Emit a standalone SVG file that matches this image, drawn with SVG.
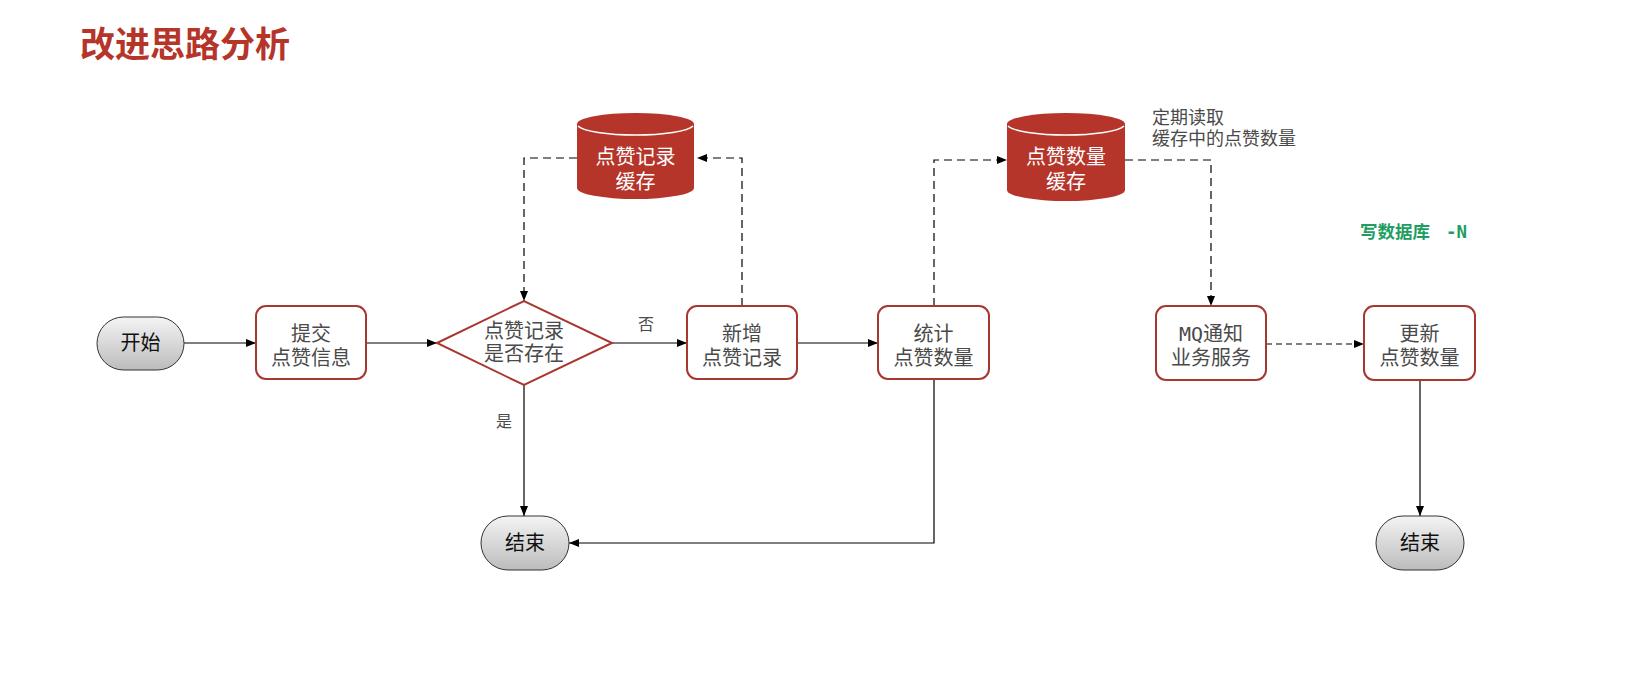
<svg xmlns="http://www.w3.org/2000/svg" width="1638" height="677" viewBox="0 0 1638 677">
<defs>
<linearGradient id="g" x1="0" y1="0" x2="0" y2="1"><stop offset="0" stop-color="#f4f4f4"/><stop offset="1" stop-color="#bcbcbc"/></linearGradient>
<marker id="a" viewBox="0 0 10 10" refX="10" refY="5" markerWidth="10" markerHeight="10" markerUnits="userSpaceOnUse" orient="auto"><path d="M0,1 L10,5 L0,9 z" fill="#000"/></marker>
<style>
.t{font-family:"Noto Sans CJK SC","Noto Sans",sans-serif;font-size:20px;fill:#4a4a4a;text-anchor:middle}
.k{fill:#111}
.w{fill:#fff}
.box{fill:#fff;stroke:#a8372f;stroke-width:2}
.st{fill:url(#g);stroke:#333;stroke-width:1}
.cyl{fill:#b5352a}
.e{fill:none;stroke:#000;stroke-width:1.2;marker-end:url(#a)}
.d{stroke-dasharray:8 5}
.d2{stroke-dasharray:6 4}
.mono{font-family:"DejaVu Sans Mono","Liberation Mono",monospace}
</style>
</defs>
<rect width="1638" height="677" fill="#fff"/>
<text x="80" y="57" style="font-family:'Noto Sans CJK SC',sans-serif;font-size:35px;font-weight:bold;fill:#b5352a">改进思路分析</text>

<g id="connectors">
<path class="e" d="M184,343 H256"/>
<path class="e" d="M366,343 H437"/>
<path class="e" d="M612,343 H687"/>
<path class="e" d="M797,343 H878"/>
<path class="e" d="M524,385 V516"/>
<path class="e" d="M934,379 V543 H569"/>
<path class="e d" d="M577,158 H524 V301"/>
<path class="e d" d="M742,306 V158 H697"/>
<path class="e d" d="M934,306 V160 H1007"/>
<path class="e d" d="M1125,160 H1211 V306"/>
<path class="e d2" d="M1266,344 H1364"/>
<path class="e" d="M1420,380 V516"/>
<text class="t" x="646" y="330" style="font-size:16px">否</text>
<text class="t" x="504" y="427" style="font-size:16px">是</text>
</g>

<g id="start"><rect class="st" x="97" y="317" width="87" height="53" rx="26.5"/><text class="t k" x="140.5" y="350">开始</text></g>
<g id="submit"><rect class="box" x="256" y="306" width="110" height="73" rx="10"/><text class="t" x="311" y="341">提交<tspan x="311" dy="24">点赞信息</tspan></text></g>
<g id="check"><path class="box" d="M437,343 L524,301 L612,343 L524,385 z"/><text class="t" x="524" y="338">点赞记录<tspan x="524" dy="23">是否存在</tspan></text></g>
<g id="add"><rect class="box" x="687" y="306" width="110" height="73" rx="10"/><text class="t" x="742" y="341">新增<tspan x="742" dy="24">点赞记录</tspan></text></g>
<g id="count"><rect class="box" x="878" y="306" width="111" height="73" rx="10"/><text class="t" x="933.5" y="341">统计<tspan x="933.5" dy="24">点赞数量</tspan></text></g>
<g id="cache1"><path class="cyl" d="M577,124 V188 A58.5,11 0 0 0 694,188 V124 A58.5,11 0 0 0 577,124 z"/><path d="M578,126 A58.5,11 0 0 0 693,126" fill="none" stroke="#fff" stroke-width="1.5"/><text class="t w" x="635.5" y="164">点赞记录<tspan x="635.5" dy="25">缓存</tspan></text></g>
<g id="cache2"><path class="cyl" d="M1007,124 V190 A59,11 0 0 0 1125,190 V124 A59,11 0 0 0 1007,124 z"/><path d="M1008,126 A59,11 0 0 0 1124,126" fill="none" stroke="#fff" stroke-width="1.5"/><text class="t w" x="1066" y="164">点赞数量<tspan x="1066" dy="25">缓存</tspan></text></g>
<g id="note"><text class="t" x="1152" y="124" style="text-anchor:start;font-size:18px">定期读取<tspan x="1152" dy="21">缓存中的点赞数量</tspan></text></g>
<g id="mq"><rect class="box" x="1156" y="306" width="110" height="74" rx="10"/><text class="t" x="1211" y="341"><tspan class="mono">MQ</tspan>通知<tspan x="1211" dy="24">业务服务</tspan></text></g>
<g id="update"><rect class="box" x="1364" y="306" width="111" height="74" rx="10"/><text class="t" x="1419.5" y="341">更新<tspan x="1419.5" dy="24">点赞数量</tspan></text></g>
<g id="dbnote"><text x="1360" y="238" style="font-family:'Noto Sans CJK SC',sans-serif;font-size:17.5px;font-weight:bold;fill:#1e9e62">写数据库<tspan class="mono" x="1446">-N</tspan></text></g>
<g id="end1"><rect class="st" x="481" y="516" width="88" height="54" rx="27"/><text class="t k" x="525" y="550">结束</text></g>
<g id="end2"><rect class="st" x="1376" y="516" width="88" height="54" rx="27"/><text class="t k" x="1420" y="550">结束</text></g>
</svg>
